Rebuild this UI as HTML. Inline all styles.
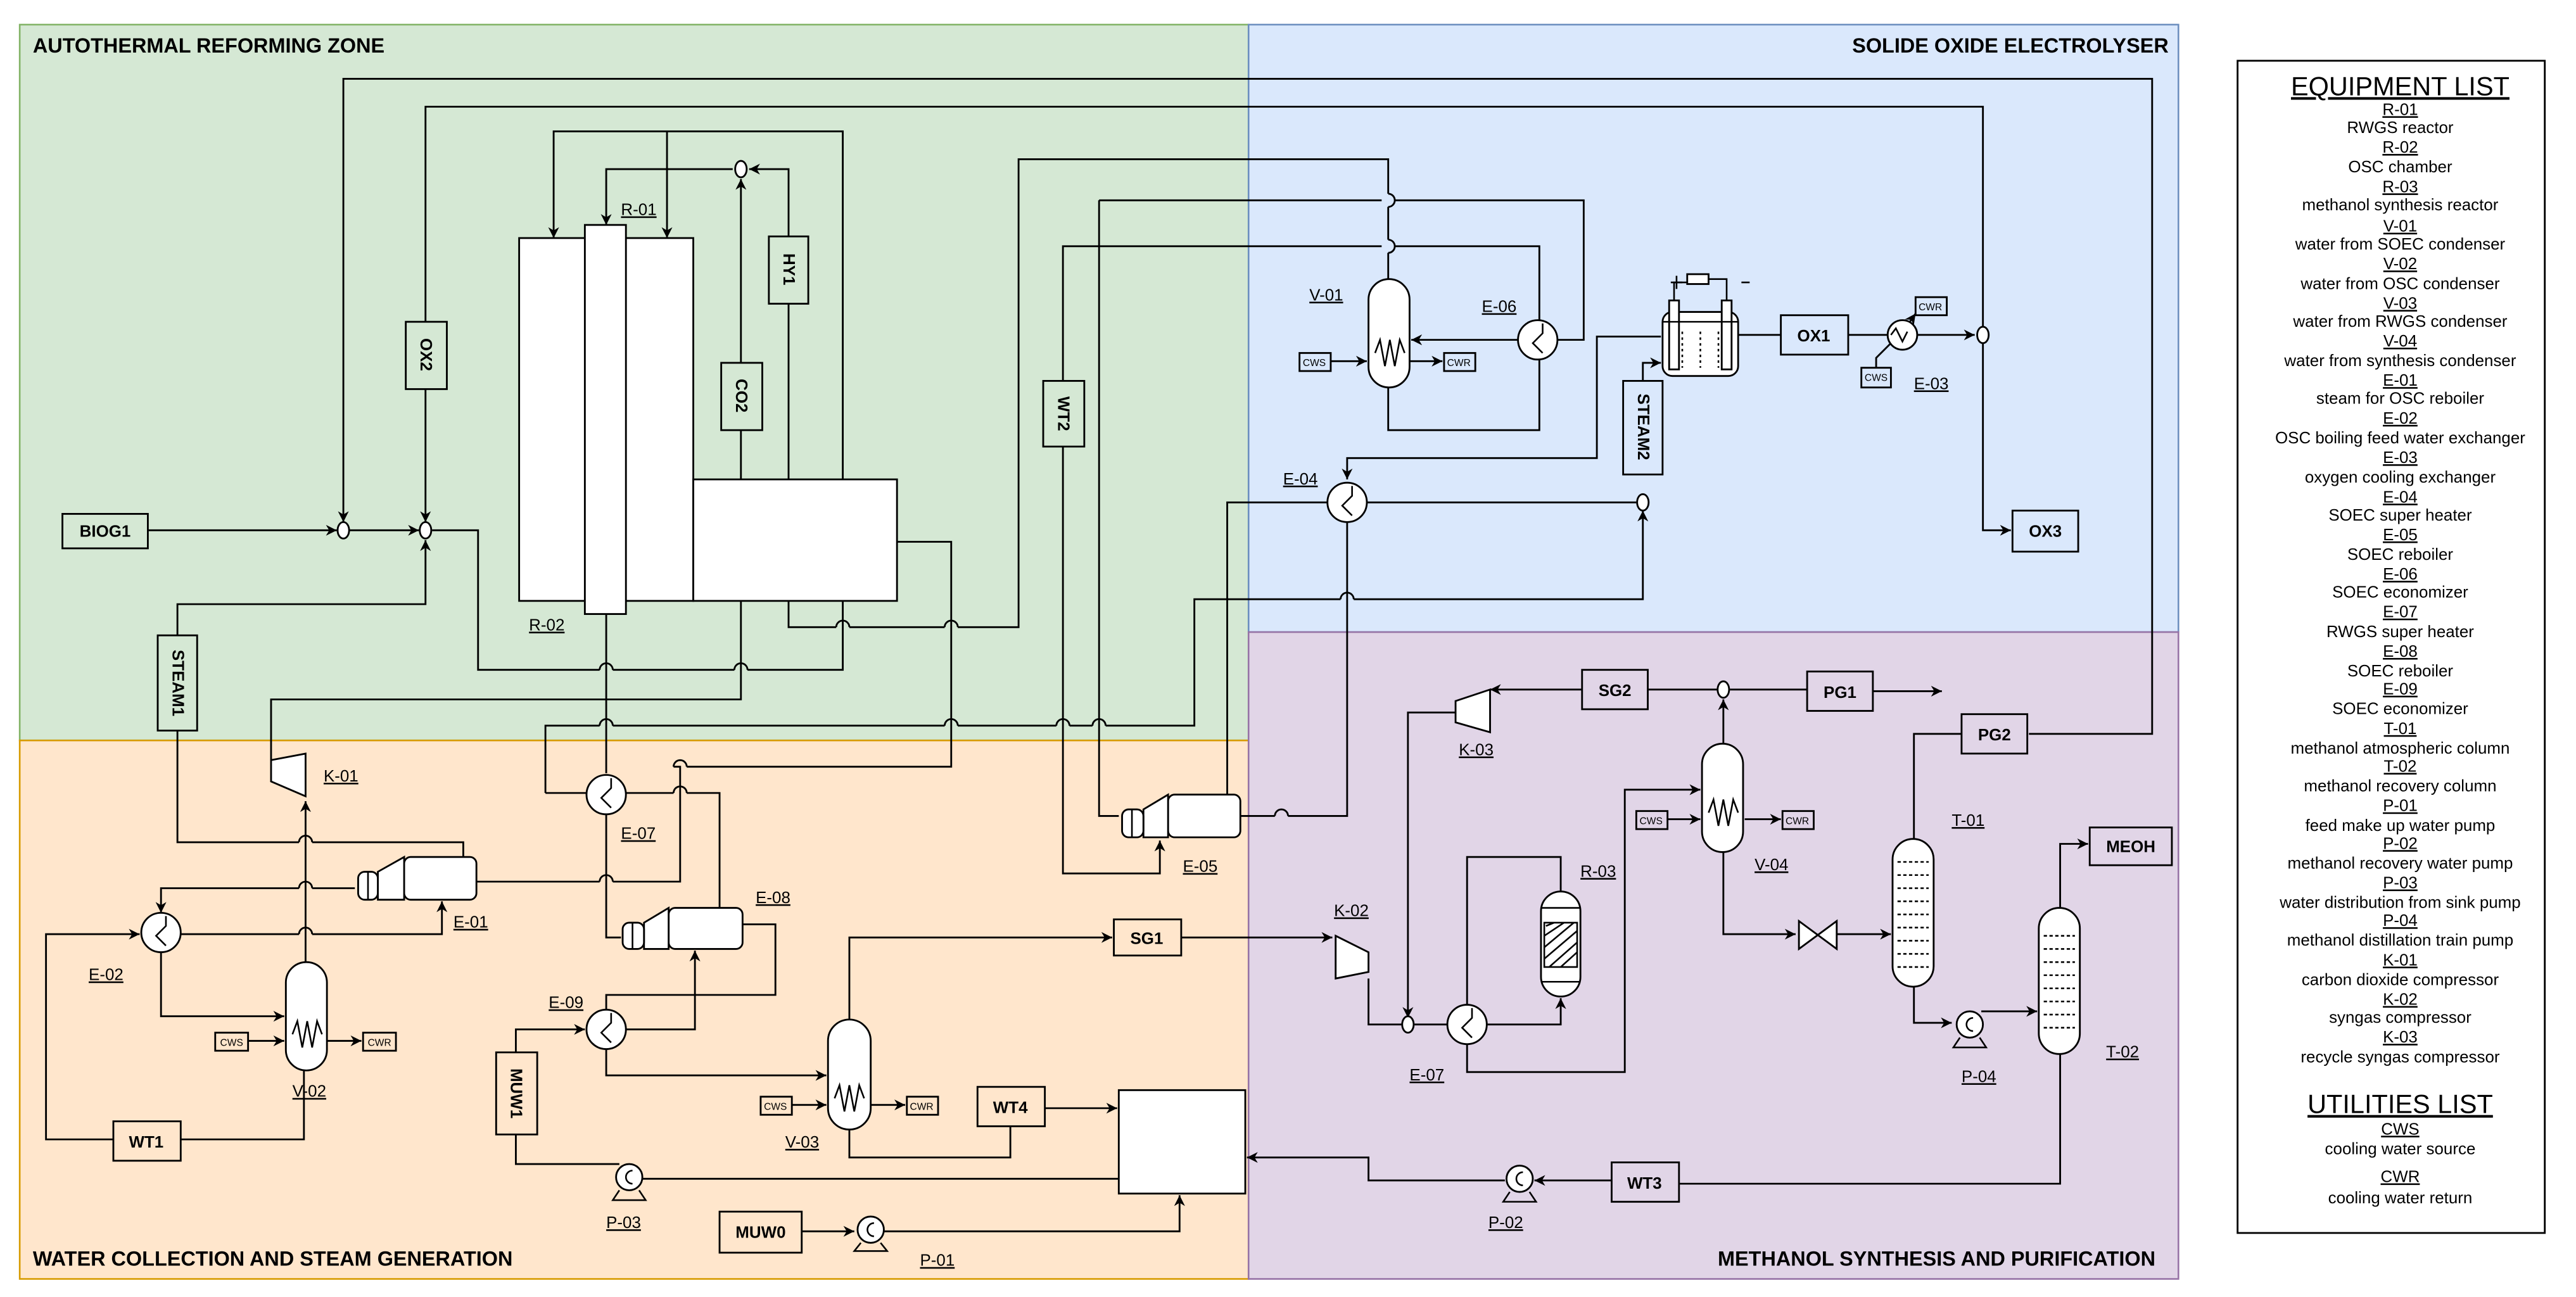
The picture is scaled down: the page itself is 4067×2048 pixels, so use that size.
<!DOCTYPE html>
<html><head><meta charset="utf-8"><style>
html,body{margin:0;padding:0;background:#fff;}
svg{display:block;}
text{font-family:"Liberation Sans",sans-serif;fill:#000;}
.b{font-weight:bold;font-size:10px;}
.t{font-weight:bold;font-size:12.5px;}
.u{font-size:10px;text-decoration:underline;}
.s{font-size:6px;}
.l{font-size:10px;}
</style></head><body>
<svg width="4067" height="2048" viewBox="0 0 1568 790" preserveAspectRatio="none" xmlns="http://www.w3.org/2000/svg">
<defs>
<marker id="a" viewBox="0 0 10 10" refX="10" refY="5" markerWidth="6" markerHeight="6" orient="auto"><path d="M0,0 L10,5 L0,10 L3,5z" fill="#000"/></marker>
</defs>
<rect width="1568" height="790" fill="#fff"/>
<rect x="12" y="15" width="748" height="436" fill="#d5e8d4" stroke="#82b366"/>
<rect x="760" y="15" width="566" height="370" fill="#dae8fc" stroke="#6c8ebf"/>
<rect x="12" y="451" width="748" height="328" fill="#ffe6cc" stroke="#d79b00"/>
<rect x="760" y="385" width="566" height="394" fill="#e1d5e7" stroke="#9673a6"/>
<text class="t" x="20" y="32">AUTOTHERMAL REFORMING ZONE</text>
<text class="t" x="1320" y="32" text-anchor="end">SOLIDE OXIDE ELECTROLYSER</text>
<text class="t" x="20" y="771">WATER COLLECTION AND STEAM GENERATION</text>
<text class="t" x="1312" y="771" text-anchor="end">METHANOL SYNTHESIS AND PURIFICATION</text>

<g fill="none" stroke="#000" stroke-width="1.1">
<polyline points="1235,447 1310,447 1310,48 209,48 209,318" marker-end="url(#a)"/>
<polyline points="259,196 259,65 1207,65 1207,199"/>
<polyline points="1207,209 1207,323 1224,323" marker-end="url(#a)"/>
<polyline points="259,237 259,318" marker-end="url(#a)"/>
<polyline points="90,323 205,323" marker-end="url(#a)"/>
<polyline points="213,323 255,323" marker-end="url(#a)"/>
<path d="M263,323 H291 V408 H365 M373,408 H447 M455,408 H513 V80 H337 V145" marker-end="url(#a)"/>
<polyline points="406,80 406,145" marker-end="url(#a)"/>
<path d="M365,408 a4,4 0 0 1 8,0 M447,408 a4,4 0 0 1 8,0"/>
<polyline points="446,103 369,103 369,137" marker-end="url(#a)"/>
<polyline points="480,144 480,103 456,103" marker-end="url(#a)"/>
<polyline points="451,221 451,109" marker-end="url(#a)"/>
<path d="M480,185 V382 H509 M517,382 H575 M583,382 H620 V97 H845 V118 M845,126 V146 M845,154 V170"/>
<path d="M509,382 a4,4 0 0 1 8,0 M575,382 a4,4 0 0 1 8,0"/>
<path d="M845,118 a4,4 0 0 1 0,8 M845,146 a4,4 0 0 1 0,8"/>
<polyline points="451,262 451,426 165,426 165,463"/>
<polyline points="108,387 108,368 259,368 259,329" marker-end="url(#a)"/>
<path d="M108,445 V513 H182 M190,513 H282 V523"/>
<path d="M182,513 a4,4 0 0 1 8,0 M182,541 a4,4 0 0 1 8,0 M182,569 a4,4 0 0 1 8,0"/>
<path d="M546,330 H579 V467 H418 M410,467 H414 V537 H373 M365,537 H290"/>
<polyline points="369,374 369,471"/>
<polyline points="369,496 369,571 378,571"/>
<path d="M647,232 V150 H841 M849,150 H937 V262 H845 V236"/>
<path d="M669,122 H841 M849,122 H964 V207 H948"/>
<polyline points="669,122 669,497 681,497"/>
<polyline points="647,272 647,532 706,532 706,512" marker-end="url(#a)"/>
<path d="M755,497 H776 M784,497 H820 V318"/>
<path d="M776,497 a4,4 0 0 1 8,0"/>
<polyline points="1011,205 972,205 972,279 820,279 820,292" marker-end="url(#a)"/>
<polyline points="747,484 747,306 808,306"/>
<polyline points="832,306 996,306"/>
<polyline points="1000,232 1000,221 1011,221" marker-end="url(#a)"/>
<path d="M332,483 V442 H365 M373,442 H575 M583,442 H643 M651,442 H665 M673,442 H727 V365 H816 M824,365 H1000 V311" marker-end="url(#a)"/>
<path d="M365,442 a4,4 0 0 1 8,0 M575,442 a4,4 0 0 1 8,0 M643,442 a4,4 0 0 1 8,0 M665,442 a4,4 0 0 1 8,0 M816,365 a4,4 0 0 1 8,0"/>
<line x1="332" y1="483" x2="357" y2="483"/>
<polyline points="924,207 859,207" marker-end="url(#a)"/>
<polyline points="810,220 832,220" marker-end="url(#a)"/>
<polyline points="858,220 878,220" marker-end="url(#a)"/>
<line x1="1058" y1="204" x2="1084" y2="204"/>
<line x1="1125" y1="204" x2="1149" y2="204"/>
<polyline points="1167,204 1202,204" marker-end="url(#a)"/>
<path d="M1142,224 V218 L1153,207"/>
<line x1="1152" y1="211" x2="1166" y2="191" marker-end="url(#a)"/>
<path d="M216,541 H190 M182,541 H98 V556" marker-end="url(#a)"/>
<path d="M110,569 H182 M190,569 H269 V549" marker-end="url(#a)"/>
<polyline points="98,580 98,619 173,619" marker-end="url(#a)"/>
<polyline points="69,694 28,694 28,569 85,569" marker-end="url(#a)"/>
<polyline points="110,694 185,694 185,652"/>
<polyline points="186,586 186,488" marker-end="url(#a)"/>
<polyline points="151,634 173,634" marker-end="url(#a)"/>
<polyline points="199,634 220,634" marker-end="url(#a)"/>
<path d="M381,483 H410 M418,483 H438 V553"/>
<path d="M410,483 a4,4 0 0 1 8,0 M410,467 a4,4 0 0 1 8,0 M365,537 a4,4 0 0 1 8,0"/>
<polyline points="451,563 472,563 472,606 369,606 369,615"/>
<polyline points="381,627 423,627 423,579" marker-end="url(#a)"/>
<polyline points="314,641 314,627 356,627" marker-end="url(#a)"/>
<polyline points="314,691 314,709 377,709"/>
<polyline points="391,718 681,718"/>
<polyline points="369,639 369,655 503,655" marker-end="url(#a)"/>
<polyline points="482,673 503,673" marker-end="url(#a)"/>
<polyline points="530,673 551,673" marker-end="url(#a)"/>
<polyline points="517,621 517,571 677,571" marker-end="url(#a)"/>
<polyline points="719,571 811,571" marker-end="url(#a)"/>
<polyline points="517,688 517,705 615,705 615,686"/>
<polyline points="636,675 680,675" marker-end="url(#a)"/>
<polyline points="488,750 520,750" marker-end="url(#a)"/>
<polyline points="538,750 718,750 718,728" marker-end="url(#a)"/>
<polyline points="963,420 907,420" marker-end="url(#a)"/>
<polyline points="886,434 857,434 857,620" marker-end="url(#a)"/>
<path d="M1003,420 H1045 M1053,420 H1100"/>
<polyline points="1140,421 1182,421" marker-end="url(#a)"/>
<polyline points="1049,453 1049,426" marker-end="url(#a)"/>
<polyline points="1015,499 1035,499" marker-end="url(#a)"/>
<polyline points="1062,499 1084,499" marker-end="url(#a)"/>
<polyline points="893,636 893,653 989,653 989,481 1035,481" marker-end="url(#a)"/>
<polyline points="893,612 893,522 950,522 950,543"/>
<polyline points="905,624 950,624 950,608" marker-end="url(#a)"/>
<polyline points="833,596 833,624 853,624"/>
<line x1="861" y1="624" x2="881" y2="624"/>
<polyline points="1049,519 1049,569 1093,569" marker-end="url(#a)"/>
<polyline points="1118,569 1151,569" marker-end="url(#a)"/>
<polyline points="1165,511 1165,447 1194,447"/>
<polyline points="1165,601 1165,623 1188,623" marker-end="url(#a)"/>
<polyline points="1206,616 1240,616" marker-end="url(#a)"/>
<polyline points="1254,553 1254,514 1271,514" marker-end="url(#a)"/>
<polyline points="1254,642 1254,721 1022,721"/>
<polyline points="981,719 934,719" marker-end="url(#a)"/>
<polyline points="916,719 833,719 833,705 759,705" marker-end="url(#a)"/>
</g>

<g stroke="#000" stroke-width="1.1" fill="#fff">
<rect x="316" y="145" width="106" height="221"/>
<rect x="422" y="292" width="124" height="74"/>
<rect x="356" y="137" width="25" height="237"/>
<ellipse cx="209" cy="323" rx="3.5" ry="5"/>
<ellipse cx="259" cy="323" rx="3.5" ry="5"/>
<ellipse cx="451" cy="103" rx="3.5" ry="5"/>
<ellipse cx="1207" cy="204" rx="3.5" ry="5"/>
<ellipse cx="1000" cy="306" rx="3.5" ry="5"/>
<ellipse cx="1049" cy="420" rx="3.5" ry="5"/>
<ellipse cx="857" cy="624" rx="3.5" ry="5"/>
<rect x="38" y="313" width="52" height="21" fill="none"/>
<rect x="247" y="196" width="25" height="41" fill="none"/>
<rect x="468" y="144" width="24" height="41" fill="none"/>
<rect x="439" y="221" width="25" height="41" fill="none"/>
<rect x="635" y="232" width="25" height="40" fill="none"/>
<rect x="96" y="387" width="24" height="58" fill="none"/>
<rect x="988" y="232" width="24" height="57" fill="none"/>
<rect x="1084" y="192" width="41" height="24" fill="none"/>
<rect x="1225" y="311" width="40" height="25" fill="none"/>
<rect x="69" y="683" width="41" height="24" fill="none"/>
<rect x="302" y="641" width="25" height="50" fill="none"/>
<rect x="678" y="560" width="41" height="22" fill="none"/>
<rect x="595" y="662" width="41" height="24" fill="none"/>
<rect x="681" y="664" width="77" height="63"/>
<rect x="438" y="738" width="50" height="25" fill="none"/>
<rect x="963" y="408" width="40" height="24" fill="none"/>
<rect x="1100" y="409" width="40" height="24" fill="none"/>
<rect x="1194" y="435" width="40" height="24" fill="none"/>
<rect x="1272" y="504" width="50" height="23" fill="none"/>
<rect x="981" y="708" width="41" height="24" fill="none"/>
<rect x="1362" y="37" width="187" height="714"/>
<rect x="791" y="215" width="19" height="11" fill="none"/>
<rect x="879" y="215" width="19" height="11" fill="none"/>
<rect x="1166" y="181" width="19" height="11" fill="none"/>
<rect x="1133" y="224" width="18" height="12" fill="none"/>
<rect x="131" y="629" width="20" height="11" fill="none"/>
<rect x="221" y="629" width="20" height="11" fill="none"/>
<rect x="463" y="668" width="19" height="11" fill="none"/>
<rect x="552" y="668" width="19" height="11" fill="none"/>
<rect x="996" y="494" width="19" height="11" fill="none"/>
<rect x="1085" y="494" width="19" height="11" fill="none"/>
<rect x="833" y="170" width="25" height="66" rx="12.5"/>
<rect x="174" y="586" width="25" height="66" rx="12.5"/>
<rect x="504" y="621" width="26" height="67" rx="13"/>
<rect x="1036" y="453" width="25" height="66" rx="12.5"/>
<rect x="938" y="543" width="24" height="64" rx="12"/>
<rect x="1152" y="511" width="25" height="90" rx="12.5"/>
<rect x="1241" y="553" width="25" height="89" rx="12.5"/>
<circle cx="936" cy="207" r="12"/>
<circle cx="820" cy="306" r="12"/>
<circle cx="369" cy="484" r="12"/>
<circle cx="98" cy="568" r="12"/>
<circle cx="369" cy="627" r="12"/>
<circle cx="893" cy="624" r="12"/>
<circle cx="1158" cy="204" r="9"/>
<rect x="1012" y="190" width="46" height="39" rx="6"/>
<rect x="1016" y="183" width="6" height="42"/>
<rect x="1048" y="183" width="6" height="42"/>
<rect x="1027" y="167" width="13" height="6"/>
<rect x="246" y="522" width="44" height="26" rx="4"/>
<polygon points="230,531 246,522 246,548 230,548"/>
<rect x="218" y="531" width="12" height="17" rx="4"/>
<rect x="407" y="553" width="45" height="25" rx="4"/>
<polygon points="392,562 407,553 407,578 392,578"/>
<rect x="379" y="562" width="13" height="16" rx="4"/>
<rect x="711" y="484" width="44" height="26" rx="4"/>
<polygon points="696,493 711,484 711,510 696,510"/>
<rect x="683" y="493" width="13" height="17" rx="4"/>
<polygon points="165,463 186,459 186,485 165,476"/>
<polygon points="813,570 833,580 833,592 813,596"/>
<polygon points="886,427 907,420 907,446 886,440"/>
<circle cx="383" cy="717" r="8"/>
<circle cx="530" cy="749" r="8"/>
<circle cx="925" cy="718" r="8"/>
<circle cx="1199" cy="624" r="8"/>
<polygon points="1095,561 1118,578 1118,561 1095,578"/>
</g>
<g fill="none" stroke="#000" stroke-width="1">
<path d="M1019,183 V172 H1027 M1040,170 H1051 V183"/>
<path d="M1017,172 h7 M1020.5,168 v8 M1060,172 h5"/>
<path d="M1024,202 v22 M1035,202 v22 M1046,202 v22" stroke-dasharray="1.5,2"/>
<path d="M1012,196 H1058"/>
<path d="M939,197 l0,6 -6,6 6,6 M823,296 l0,6 -6,6 6,6 M372,474 l0,6 -6,6 6,6 M101,558 l0,6 -6,6 6,6 M372,617 l0,6 -6,6 6,6 M896,614 l0,6 -6,6 6,6"/>
<path d="M1151,204 l3,-4 4,8 3,-6"/>
<path d="M837,215 l3,-8 3,16 3,-16 3,16 3,-16 3,8 M178,630 l3,-8 3,16 3,-16 3,16 3,-16 3,8 M508,669 l3,-8 3,16 3,-16 3,16 3,-16 3,8 M1040,495 l3,-8 3,16 3,-16 3,16 3,-16 3,8"/>
<path d="M940,562 h20 v27 h-20z M941,564 l5,-2 M940,570 l12,-8 M940,577 l18,-15 M940,584 l20,-17 M943,589 l17,-15 M950,589 l10,-9"/>
<path d="M938,553 h24 M938,598 h24"/>
<path d="M1155,525 h19 M1155,533 h19 M1155,541 h19 M1155,549 h19 M1155,557 h19 M1155,565 h19 M1155,573 h19 M1155,581 h19 M1155,589 h19" stroke-dasharray="2,1.5"/>
<path d="M1244,570 h19 M1244,578 h19 M1244,586 h19 M1244,594 h19 M1244,602 h19 M1244,610 h19 M1244,618 h19 M1244,626 h19" stroke-dasharray="2,1.5"/>
<path d="M377,725 l-4,6 h20 l-4,-6 M524,757 l-4,5 h20 l-4,-5 M919,726 l-4,6 h20 l-4,-6 M1193,632 l-4,6 h20 l-4,-6"/>
<path d="M385,713 a4,4 0 1 0 0,8 M532,745 a4,4 0 1 0 0,8 M927,714 a4,4 0 1 0 0,8 M1201,620 a4,4 0 1 0 0,8"/>
<path d="M224,531 v17 M385,562 v16 M689,493 v17"/>
</g>

<g class="b">
<text class="b" x="64" y="327" text-anchor="middle">BIOG1</text>
<text class="b" x="1104" y="208" text-anchor="middle">OX1</text>
<text class="b" x="1245" y="327" text-anchor="middle">OX3</text>
<text class="b" x="89" y="699" text-anchor="middle">WT1</text>
<text class="b" x="698" y="575" text-anchor="middle">SG1</text>
<text class="b" x="615" y="678" text-anchor="middle">WT4</text>
<text class="b" x="463" y="754" text-anchor="middle">MUW0</text>
<text class="b" x="983" y="424" text-anchor="middle">SG2</text>
<text class="b" x="1120" y="425" text-anchor="middle">PG1</text>
<text class="b" x="1214" y="451" text-anchor="middle">PG2</text>
<text class="b" x="1297" y="519" text-anchor="middle">MEOH</text>
<text class="b" x="1001" y="724" text-anchor="middle">WT3</text>
<text class="b" transform="translate(256,216) rotate(90)" text-anchor="middle">OX2</text>
<text class="b" transform="translate(477,164) rotate(90)" text-anchor="middle">HY1</text>
<text class="b" transform="translate(448,241) rotate(90)" text-anchor="middle">CO2</text>
<text class="b" transform="translate(644,252) rotate(90)" text-anchor="middle">WT2</text>
<text class="b" transform="translate(105,416) rotate(90)" text-anchor="middle">STEAM1</text>
<text class="b" transform="translate(997,260) rotate(90)" text-anchor="middle">STEAM2</text>
<text class="b" transform="translate(311,666) rotate(90)" text-anchor="middle">MUW1</text>
</g>
<g class="s">
<text class="s" x="800" y="223" text-anchor="middle">CWS</text>
<text class="s" x="888" y="223" text-anchor="middle">CWR</text>
<text class="s" x="1175" y="189" text-anchor="middle">CWR</text>
<text class="s" x="1142" y="232" text-anchor="middle">CWS</text>
<text class="s" x="141" y="637" text-anchor="middle">CWS</text>
<text class="s" x="231" y="637" text-anchor="middle">CWR</text>
<text class="s" x="472" y="676" text-anchor="middle">CWS</text>
<text class="s" x="561" y="676" text-anchor="middle">CWR</text>
<text class="s" x="1005" y="502" text-anchor="middle">CWS</text>
<text class="s" x="1094" y="502" text-anchor="middle">CWR</text>
</g>
<g>
<text class="u" x="378" y="131">R-01</text>
<text class="u" x="322" y="384">R-02</text>
<text class="u" x="797" y="183">V-01</text>
<text class="u" x="902" y="190">E-06</text>
<text class="u" x="781" y="295">E-04</text>
<text class="u" x="1165" y="237">E-03</text>
<text class="u" x="197" y="476">K-01</text>
<text class="u" x="378" y="511">E-07</text>
<text class="u" x="276" y="565">E-01</text>
<text class="u" x="460" y="550">E-08</text>
<text class="u" x="54" y="597">E-02</text>
<text class="u" x="334" y="614">E-09</text>
<text class="u" x="178" y="668">V-02</text>
<text class="u" x="478" y="699">V-03</text>
<text class="u" x="369" y="748">P-03</text>
<text class="u" x="560" y="771">P-01</text>
<text class="u" x="720" y="531">E-05</text>
<text class="u" x="888" y="460">K-03</text>
<text class="u" x="812" y="558">K-02</text>
<text class="u" x="962" y="534">R-03</text>
<text class="u" x="1068" y="530">V-04</text>
<text class="u" x="858" y="658">E-07</text>
<text class="u" x="1188" y="503">T-01</text>
<text class="u" x="1282" y="644">T-02</text>
<text class="u" x="1194" y="659">P-04</text>
<text class="u" x="906" y="748">P-02</text>
</g>
<g text-anchor="middle">
<text x="1461" y="58" style="font-size:16px;text-decoration:underline">EQUIPMENT LIST</text>
<text class="u" x="1461" y="70">R-01</text><text class="l" x="1461" y="81">RWGS reactor</text>
<text class="u" x="1461" y="93">R-02</text><text class="l" x="1461" y="105">OSC chamber</text>
<text class="u" x="1461" y="117">R-03</text><text class="l" x="1461" y="128">methanol synthesis reactor</text>
<text class="u" x="1461" y="141">V-01</text><text class="l" x="1461" y="152">water from SOEC condenser</text>
<text class="u" x="1461" y="164">V-02</text><text class="l" x="1461" y="176">water from OSC condenser</text>
<text class="u" x="1461" y="188">V-03</text><text class="l" x="1461" y="199">water from RWGS condenser</text>
<text class="u" x="1461" y="211">V-04</text><text class="l" x="1461" y="223">water from synthesis condenser</text>
<text class="u" x="1461" y="235">E-01</text><text class="l" x="1461" y="246">steam for OSC reboiler</text>
<text class="u" x="1461" y="258">E-02</text><text class="l" x="1461" y="270">OSC boiling feed water exchanger</text>
<text class="u" x="1461" y="282">E-03</text><text class="l" x="1461" y="294">oxygen cooling exchanger</text>
<text class="u" x="1461" y="306">E-04</text><text class="l" x="1461" y="317">SOEC super heater</text>
<text class="u" x="1461" y="329">E-05</text><text class="l" x="1461" y="341">SOEC reboiler</text>
<text class="u" x="1461" y="353">E-06</text><text class="l" x="1461" y="364">SOEC economizer</text>
<text class="u" x="1461" y="376">E-07</text><text class="l" x="1461" y="388">RWGS super heater</text>
<text class="u" x="1461" y="400">E-08</text><text class="l" x="1461" y="412">SOEC reboiler</text>
<text class="u" x="1461" y="423">E-09</text><text class="l" x="1461" y="435">SOEC economizer</text>
<text class="u" x="1461" y="447">T-01</text><text class="l" x="1461" y="459">methanol atmospheric column</text>
<text class="u" x="1461" y="470">T-02</text><text class="l" x="1461" y="482">methanol recovery column</text>
<text class="u" x="1461" y="494">P-01</text><text class="l" x="1461" y="506">feed make up water pump</text>
<text class="u" x="1461" y="517">P-02</text><text class="l" x="1461" y="529">methanol recovery water pump</text>
<text class="u" x="1461" y="541">P-03</text><text class="l" x="1461" y="553">water distribution from sink pump</text>
<text class="u" x="1461" y="564">P-04</text><text class="l" x="1461" y="576">methanol distillation train pump</text>
<text class="u" x="1461" y="588">K-01</text><text class="l" x="1461" y="600">carbon dioxide compressor</text>
<text class="u" x="1461" y="612">K-02</text><text class="l" x="1461" y="623">syngas compressor</text>
<text class="u" x="1461" y="635">K-03</text><text class="l" x="1461" y="647">recycle syngas compressor</text>
<text x="1461" y="678" style="font-size:16px;text-decoration:underline">UTILITIES LIST</text>
<text class="u" x="1461" y="691">CWS</text><text class="l" x="1461" y="703">cooling water source</text>
<text class="u" x="1461" y="720">CWR</text><text class="l" x="1461" y="733">cooling water return</text>
</g>
</svg>
</body></html>
